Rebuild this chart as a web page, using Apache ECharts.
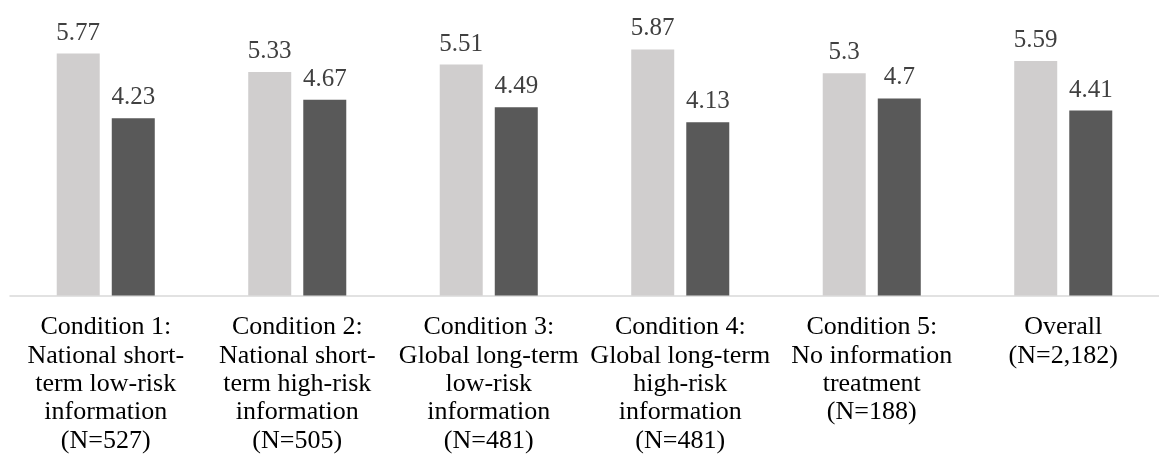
<!DOCTYPE html>
<html><head><meta charset="utf-8">
<script src="https://cdn.jsdelivr.net/npm/echarts@6/dist/echarts.min.js"></script>
<style>html,body{margin:0;padding:0;background:#fff}#c{width:1159px;height:455px}</style>
</head><body><div id="c"></div>
<script>
var categories = [
  "Condition 1:\nNational short-\nterm low-risk\ninformation\n(N=527)",
  "Condition 2:\nNational short-\nterm high-risk\ninformation\n(N=505)",
  "Condition 3:\nGlobal long-term\nlow-risk\ninformation\n(N=481)",
  "Condition 4:\nGlobal long-term\nhigh-risk\ninformation\n(N=481)",
  "Condition 5:\nNo information\ntreatment\n(N=188)",
  "Overall\n(N=2,182)"
];
var seriesA = [5.77, 5.33, 5.51, 5.87, 5.3, 5.59];
var seriesB = [4.23, 4.67, 4.49, 4.13, 4.7, 4.41];

var chart = echarts.init(document.getElementById('c'));
var font = "Liberation Serif";
var lbl = {show:true, position:'top', distance:8, color:'#404040', fontFamily:font, fontSize:25};
chart.setOption({
  animation:false,
  grid:{left:10, top:2, width:1158, height:295.3, containLabel:false},
  xAxis:{type:'category', data:categories,
    axisLine:{lineStyle:{color:'#D9D9D9', width:1.5}},
    axisTick:{show:false},
    axisLabel:{interval:0, margin:18, color:'#000', fontFamily:font, fontSize:26, lineHeight:28.3}},
  yAxis:{type:'value', min:0, max:7, show:false, splitLine:{show:false}},
  series:[
    {type:'bar', data:seriesA, barWidth:43, barGap:'28%', itemStyle:{color:'#D0CECE'}, label:lbl},
    {type:'bar', data:seriesB, barWidth:43, itemStyle:{color:'#595959'}, label:lbl}
  ]
});
</script></body></html>
